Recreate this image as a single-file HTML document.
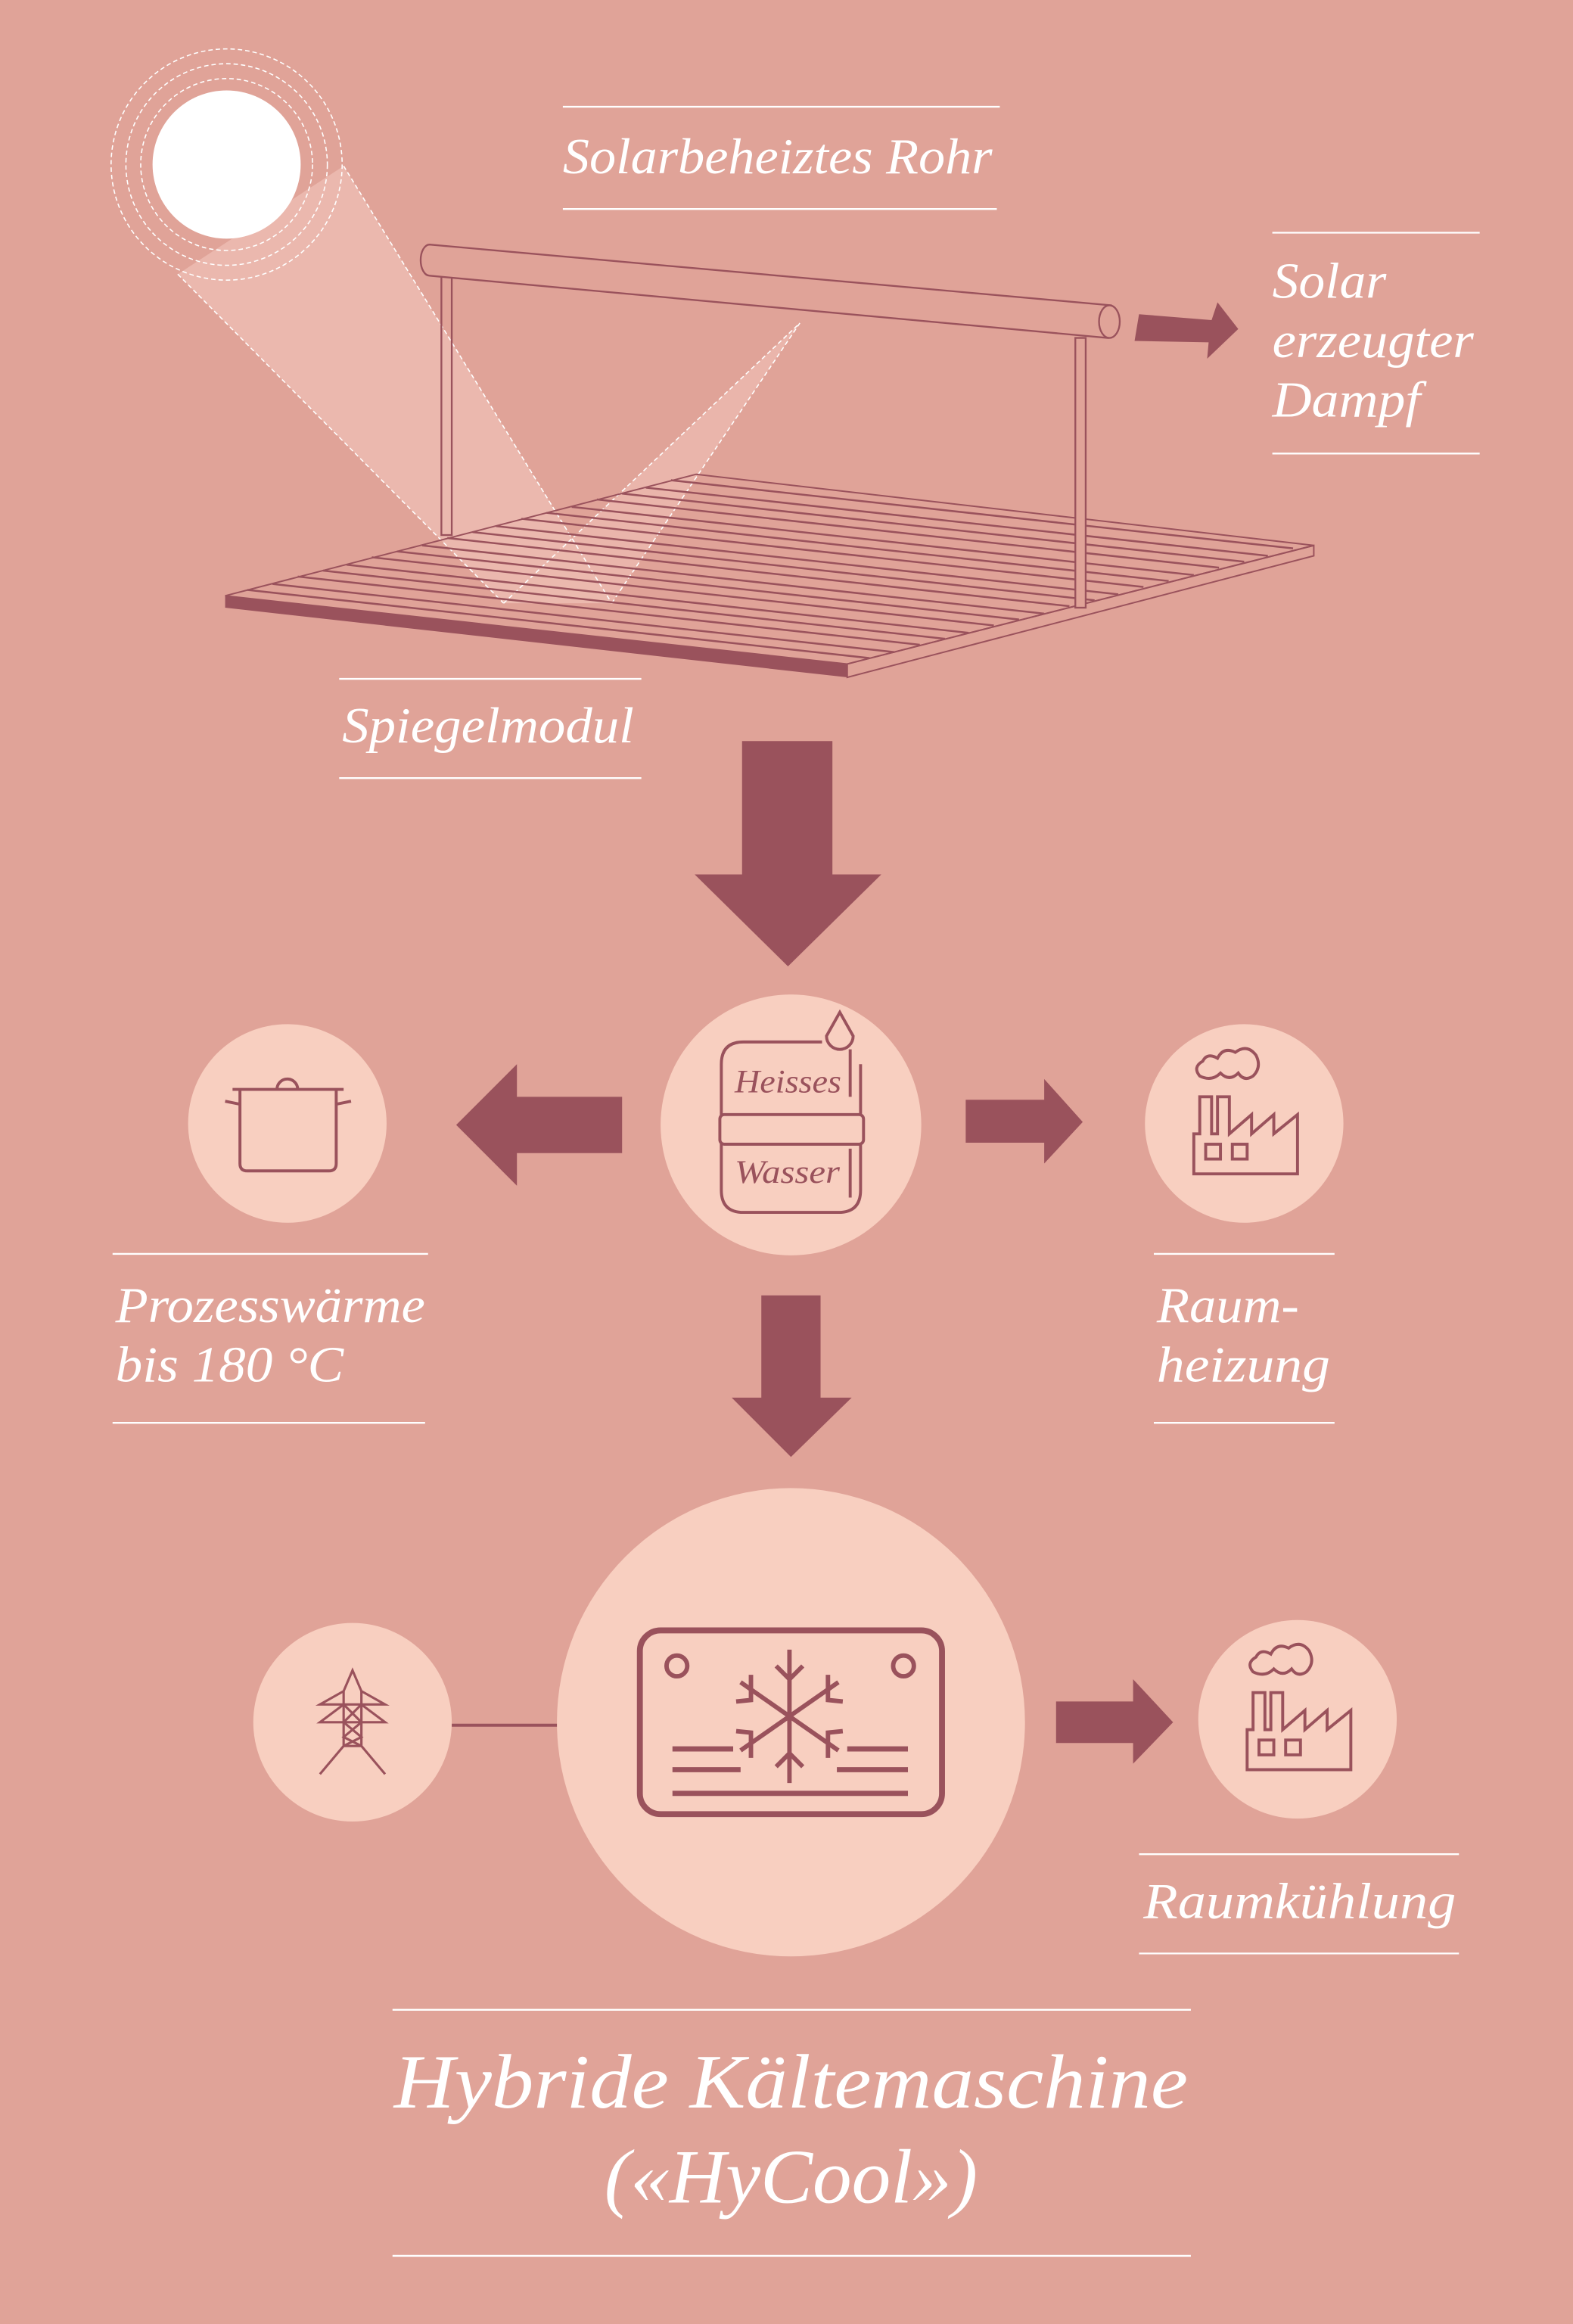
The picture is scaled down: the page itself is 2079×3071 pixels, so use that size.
<!DOCTYPE html>
<html><head><meta charset="utf-8"><style>
html,body{margin:0;padding:0;background:#E0A398;}
svg{display:block}
text{font-family:"Liberation Serif",serif;font-style:italic;fill:#fff}
</style></head><body>
<svg width="2079" height="3071" viewBox="0 0 1062 1568" preserveAspectRatio="none" xmlns="http://www.w3.org/2000/svg">
<rect width="1062" height="1568" fill="#E0A398"/>
<polygon points="120,185 232,112 413,407 340,407" fill="#EBB8AE"/>
<polygon points="340,407 413,407 540,218" fill="#EBB8AE" opacity="0.85"/>
<g stroke="#fff" stroke-width="0.8" stroke-dasharray="3,2" fill="none">
<line x1="120" y1="185" x2="340" y2="407"/><line x1="232" y1="112" x2="413" y2="407"/>
<line x1="340" y1="407" x2="540" y2="218"/><line x1="413" y1="407" x2="540" y2="218"/>
<circle cx="153" cy="111" r="58"/><circle cx="153" cy="111" r="68"/><circle cx="153" cy="111" r="78"/>
</g>
<circle cx="153" cy="111" r="50" fill="#fff"/>
<polygon points="152,402 572,448 572,457 152,410" fill="#9A525C"/>
<polygon points="572,448 887,368 887,375 572,457" fill="#E0A398" stroke="#9A525C" stroke-width="1"/>
<polygon points="152,402 470,320 887,368 572,448" fill="none" stroke="#9A525C" stroke-width="1"/>
<g stroke="#9A525C" stroke-width="1.3">
<line x1="167" y1="398" x2="587" y2="444"/><line x1="184" y1="394" x2="604" y2="440"/>
<line x1="201" y1="389" x2="621" y2="435"/><line x1="218" y1="385" x2="638" y2="431"/>
<line x1="234" y1="381" x2="654" y2="427"/><line x1="251" y1="376" x2="671" y2="422"/>
<line x1="268" y1="372" x2="688" y2="418"/><line x1="285" y1="368" x2="705" y2="414"/>
<line x1="302" y1="363" x2="722" y2="409"/><line x1="319" y1="359" x2="739" y2="405"/>
<line x1="335" y1="355" x2="755" y2="401"/><line x1="352" y1="350" x2="772" y2="396"/>
<line x1="369" y1="346" x2="789" y2="392"/><line x1="386" y1="342" x2="806" y2="388"/>
<line x1="403" y1="337" x2="823" y2="383"/><line x1="420" y1="333" x2="840" y2="379"/>
<line x1="436" y1="329" x2="856" y2="375"/><line x1="453" y1="324" x2="873" y2="370"/>
</g>
<g fill="#E0A398" stroke="#9A525C" stroke-width="1.2">
<rect x="298" y="186" width="7" height="175" fill="none"/>
<rect x="726" y="228" width="7" height="182"/>
<path d="M290,165 L750,206 L748,228 L290,186 A6,10.5 0 0 1 290,165 Z"/>
<ellipse cx="749" cy="217" rx="7" ry="11"/>
</g>
<polygon points="769,212 818,216 822,204 836,222 815,242 816,231 766,230" fill="#9A525C"/>
<g stroke="#fff" stroke-width="1.2">
<line x1="380" y1="72" x2="675" y2="72"/><line x1="380" y1="141" x2="673" y2="141"/>
<line x1="859" y1="157" x2="999" y2="157"/><line x1="859" y1="306" x2="999" y2="306"/>
<line x1="229" y1="458" x2="433" y2="458"/><line x1="229" y1="525" x2="433" y2="525"/>
<line x1="76" y1="846" x2="289" y2="846"/><line x1="76" y1="960" x2="287" y2="960"/>
<line x1="779" y1="846" x2="901" y2="846"/><line x1="779" y1="960" x2="901" y2="960"/>
<line x1="769" y1="1251" x2="985" y2="1251"/><line x1="769" y1="1318" x2="985" y2="1318"/>
<line x1="265" y1="1356" x2="804" y2="1356"/><line x1="265" y1="1522" x2="804" y2="1522"/>
</g>
<text x="380" y="117" font-size="34" textLength="290" lengthAdjust="spacingAndGlyphs">Solarbeheiztes Rohr</text>
<text x="859" y="201" font-size="34" textLength="77" lengthAdjust="spacingAndGlyphs">Solar</text>
<text x="859" y="241" font-size="34" textLength="136" lengthAdjust="spacingAndGlyphs">erzeugter</text>
<text x="859" y="281" font-size="34" textLength="100" lengthAdjust="spacingAndGlyphs">Dampf</text>
<text x="231" y="501" font-size="34" textLength="197" lengthAdjust="spacingAndGlyphs">Spiegelmodul</text>
<text x="78" y="892" font-size="34" textLength="209" lengthAdjust="spacingAndGlyphs">Prozesswärme</text>
<text x="78" y="932" font-size="34" textLength="154" lengthAdjust="spacingAndGlyphs">bis 180 °C</text>
<text x="781" y="892" font-size="34" textLength="96" lengthAdjust="spacingAndGlyphs">Raum-</text>
<text x="781" y="932" font-size="34" textLength="117" lengthAdjust="spacingAndGlyphs">heizung</text>
<text x="772" y="1294" font-size="34" textLength="211" lengthAdjust="spacingAndGlyphs">Raumkühlung</text>
<text x="534" y="1422" font-size="52" text-anchor="middle" textLength="536" lengthAdjust="spacingAndGlyphs">Hybride Kältemaschine</text>
<text x="534" y="1486" font-size="52" text-anchor="middle" textLength="252" lengthAdjust="spacingAndGlyphs">(«HyCool»)</text>
<g fill="#9A525C">
<polygon points="501,500 562,500 562,590 595,590 532,652 469,590 501,590"/>
<polygon points="420,740 420,778 349,778 349,800 308,759 349,718 349,740"/>
<polygon points="652,742 705,742 705,728 731,757 705,785 705,771 652,771"/>
<polygon points="514,874 554,874 554,943 575,943 534,983 494,943 514,943"/>
<polygon points="713,1148 765,1148 765,1133 792,1162 765,1190 765,1176 713,1176"/>
</g>
<line x1="305" y1="1164" x2="378" y2="1164" stroke="#9A525C" stroke-width="2"/>
<g fill="#F8CFC0">
<circle cx="534" cy="759" r="88"/><circle cx="194" cy="758" r="67"/><circle cx="840" cy="758" r="67"/>
<circle cx="534" cy="1162" r="158"/><circle cx="238" cy="1162" r="67"/><circle cx="876" cy="1160" r="67"/>
</g>
<g stroke="#9A525C" stroke-width="2" fill="none">
<path d="M555,703 L502,703 Q487,703 487,718 L487,803 Q487,818 502,818 L566,818 Q581,818 581,803 L581,718"/>
<rect x="486" y="752" width="97" height="20" rx="3" fill="#F8CFC0"/>
<path d="M567,683 L558,699 A9,9 0 1 0 576,699 Z" fill="#F8CFC0"/>
<line x1="574" y1="708" x2="574" y2="740"/><line x1="574" y1="775" x2="574" y2="808"/>
</g>
<text x="496" y="737" font-size="22" style="fill:#9A525C" textLength="72" lengthAdjust="spacingAndGlyphs">Heisses</text>
<text x="496" y="798" font-size="22" style="fill:#9A525C" textLength="71" lengthAdjust="spacingAndGlyphs">Wasser</text>
<g stroke="#9A525C" stroke-width="2" fill="none">
<path d="M162,735 L162,785 Q162,790 167,790 L222,790 Q227,790 227,785 L227,735"/>
<line x1="157" y1="735" x2="232" y2="735"/>
<path d="M187,735 A7,7 0 0 1 201,735"/>
<line x1="152" y1="743" x2="162" y2="745"/><line x1="237" y1="743" x2="227" y2="745"/>
</g>
<g id="fac" stroke="#9A525C" stroke-width="2" fill="none">
<path d="M806,792 L806,765 L810,765 L810,740 L818,740 L818,765 L822,765 L822,740 L830,740 L830,765 L845,752 L845,765 L860,752 L860,765 L876,752 L876,792 Z"/>
<rect x="814" y="772" width="10" height="10"/><rect x="832" y="772" width="10" height="10"/>
<path d="M810,726 Q805,720 812,716 Q815,710 822,714 Q826,706 834,710 Q842,704 848,712 Q852,720 846,726 Q840,730 836,724 Q830,730 824,724 Q818,730 810,726 Z"/>
</g>
<use href="#fac" x="36" y="402"/>
<g stroke="#9A525C" stroke-width="1.6" fill="none">
<path d="M238,1127 L232,1141 L216,1150 L260,1150 L244,1141 Z"/>
<path d="M232,1150 L216,1162 L260,1162 L244,1150"/>
<path d="M232,1141 L232,1178 L216,1197 M244,1141 L244,1178 L260,1197"/>
<path d="M232,1150 L244,1162 L232,1172 L244,1178 M244,1150 L232,1162 L244,1172 L232,1178"/>
<line x1="232" y1="1178" x2="244" y2="1178"/>
</g>
<g stroke="#9A525C" stroke-width="4" fill="none">
<rect x="432" y="1100" width="204" height="124" rx="14"/>
<circle cx="457" cy="1124" r="7" stroke-width="3"/><circle cx="610" cy="1124" r="7" stroke-width="3"/>
<line x1="533" y1="1113" x2="533" y2="1203" stroke-width="3"/>
<line x1="500" y1="1135" x2="566" y2="1181" stroke-width="3"/>
<line x1="566" y1="1135" x2="500" y2="1181" stroke-width="3"/>
<path d="M524,1124 L533,1133 L542,1124 M524,1192 L533,1183 L542,1192 M507,1130 L507,1147 L497,1148 M559,1130 L559,1147 L569,1148 M507,1186 L507,1169 L497,1168 M559,1186 L559,1169 L569,1168" stroke-width="3"/>
<line x1="454" y1="1180" x2="495" y2="1180" stroke-width="3.5"/><line x1="572" y1="1180" x2="613" y2="1180" stroke-width="3.5"/>
<line x1="454" y1="1194" x2="500" y2="1194" stroke-width="3.5"/><line x1="565" y1="1194" x2="613" y2="1194" stroke-width="3.5"/>
<line x1="454" y1="1210" x2="613" y2="1210" stroke-width="3.5"/>
</g>
</svg>
</body></html>
